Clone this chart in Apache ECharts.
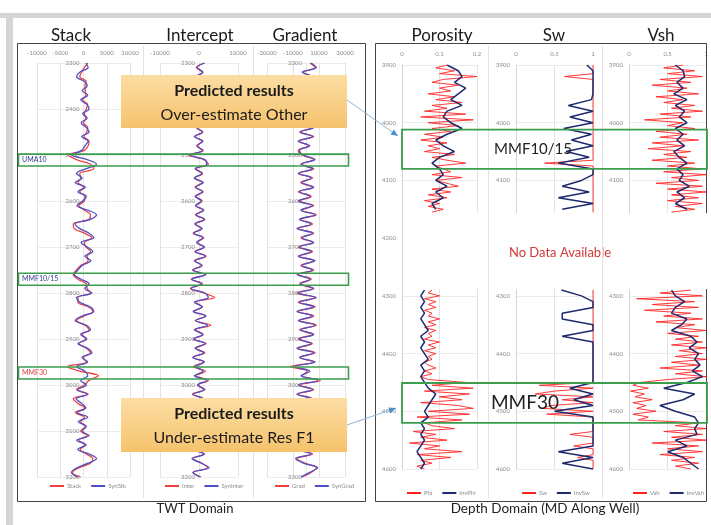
<!DOCTYPE html>
<html><head><meta charset="utf-8">
<script src="https://cdn.jsdelivr.net/npm/echarts@6/dist/echarts.min.js"></script>
<style>html,body{margin:0;padding:0;background:#fff}#c{width:711px;height:525px}</style>
</head><body><div id="c"></div>
<script>
// ---------- TWT domain (ms), samples every 10 ms from 2300 ----------
const twtStart = 2300, twtStep = 10;
const stackRed = [900,200,-400,-800,600,300,400,500,-200,900,
600,200,500,0,900,700,100,1200,1000,200,
-3200,-1500,1500,2200,-800,-600,-1200,0,-800,300,
200,-1000,200,1500,1200,-2200,-2000,200,1800,200,
500,1500,800,1000,-600,-1500,-2200,-1200,600,800,
1500,-1200,-1200,1000,2000,200,-1500,300,1200,-300,
500,-1000,600,1500,0,600,-3500,-800,3200,1200,
200,-1500,1000,-2200,-1200,300,-1800,200,-600,400,
-600,800,-1000,300,-700,600,2000,1500,-1000,-2400,-600];
const stackSyn = [500,1000,-800,-1500,200,800,-300,900,-600,700,
1200,-200,800,-500,600,1200,-400,1000,300,-400,
-2500,800,2800,500,-1500,-300,-1800,400,-1200,600,
-200,-1400,900,2800,1500,-1800,-800,1200,2200,-500,
800,2000,300,1600,-300,-1200,-2000,-500,1200,300,
1800,-1500,-800,1400,2200,-300,-1800,600,1500,-600,
700,-1200,900,1800,-300,900,-1500,300,900,-600,
600,-1300,800,-1600,-400,500,-1400,900,-1100,600,
-300,1200,-1500,600,-1200,1200,2800,1000,-1400,-2600,-1200];
const interRed = [1200,-700,900,-600,1000,-800,900,-800,700,1000,
-500,1100,-700,900,-700,1000,-1000,800,-600,1100,
-2600,1200,2400,-800,900,-1000,900,-1000,1100,-800,
800,-700,1000,-900,1500,-900,600,-1500,1200,-400,
1200,-1100,1800,-1000,600,-1700,1600,-2000,900,-2200,
1200,4000,-800,700,-1200,1600,-1000,3000,-900,1100,
-1200,1800,-800,1500,-1400,1200,-1400,1600,-900,2400,
-200,1300,-1700,1200,-700,900,-900,1000,-800,700,
-800,1200,-800,900,-1000,1200,-1600,800,2200,-1400,500];
const interSyn = [1500,-500,1000,-800,1200,-600,800,-1000,500,1200,
-700,900,-900,1100,-500,800,-1200,1000,-400,900,
-2200,1500,2000,-1000,700,-1200,1100,-800,900,-1000,
600,-900,1200,-700,1300,-1100,800,-1300,1000,-600,
1400,-900,1600,-1200,800,-1500,1800,-1800,600,-2000,
1500,2400,-1200,900,-1500,1800,-800,2200,-1200,900,
-1400,1600,-1000,1200,-1600,1400,-800,1000,-1200,2000,
-400,1500,-1500,1000,-900,1100,-700,800,-1000,900,
-600,1000,-1000,700,-1200,1400,-1800,600,2600,-1600,300];
const gradRed = [3000,7000,-2000,4000,-5000,5000,-2000,-3000,6000,-3000,
4000,-4000,5000,-4000,5000,-5000,6000,-5000,2000,-6000,
-3000,6000,-3000,6000,-5000,5000,-4000,5000,-6000,4000,
-5000,6000,-3000,8000,-4000,5000,-6000,6000,-4000,5000,
-6000,5000,-5000,6000,-4000,6000,-6000,4000,-5000,5000,
-7000,7000,-6000,7000,-6000,6000,-5000,8000,-5000,5000,
-6000,5000,-6000,7000,-4000,6000,-12000,1000,-3000,11000,
-5000,6000,-6000,5000,-4000,5000,-6000,5000,-3000,4000,
-4000,5000,-4000,5000,-7000,5000,-7000,-1000,8000,4000,-3000];
const gradSyn = [4000,8000,-3000,5000,-4000,6000,-3000,-2000,5000,-4000,
3000,-5000,4000,-3000,6000,-4000,5000,-6000,3000,-5000,
-2000,7000,-4000,5000,-6000,4000,-3000,6000,-5000,3000,
-6000,5000,-4000,7000,-5000,4000,-7000,5000,-3000,6000,
-5000,4000,-6000,7000,-3000,5000,-7000,3000,-4000,6000,
-6000,8000,-5000,6000,-7000,5000,-6000,7000,-4000,6000,
-5000,4000,-7000,6000,-5000,7000,-9000,3000,-4000,9000,
-6000,5000,-7000,4000,-3000,6000,-5000,4000,-4000,5000,
-3000,4000,-5000,6000,-6000,4000,-8000,-2000,9000,3000,-4000];

// ---------- Depth domain (m MD) ----------
const topStart = 3900, botStart = 4290, logStep = 5, invStep = 10;
const phiTop = [0.12,0.09,0.14,0.10,0.20,0.11,0.08,0.15,0.10,0.13,
0.07,0.14,0.09,0.16,0.08,0.12,0.06,0.17,0.05,0.19,
0.07,0.15,0.08,0.13,0.06,0.11,0.05,0.12,0.07,0.10,
0.06,0.14,0.08,0.12,0.17,0.09,0.11,0.13,0.08,0.16,
0.09,0.12,0.15,0.08,0.13,0.07,0.12,0.06,0.10,0.07,0.11,0.08];
const phiBot = [0.08,0.07,0.10,0.06,0.09,0.07,0.09,0.06,0.08,0.07,
0.10,0.07,0.09,0.06,0.09,0.07,0.08,0.06,0.10,0.07,
0.09,0.06,0.09,0.07,0.08,0.06,0.07,0.09,0.06,0.08,
0.05,0.07,0.17,0.08,0.19,0.06,0.18,0.10,0.16,0.05,
0.15,0.19,0.07,0.18,0.04,0.16,0.06,0.08,0.14,0.03,
0.09,0.05,0.12,0.02,0.10,0.06,0.16,0.04,0.13,0.05,0.08,0.04,0.06];
const invPhiTop = [0.12,0.15,0.16,0.14,0.17,0.15,0.13,0.16,0.12,0.11,
0.13,0.16,0.12,0.09,0.11,0.14,0.10,0.08,0.10,0.11,
0.09,0.12,0.09,0.11,0.08,0.09];
const invPhiBot = [0.06,0.05,0.06,0.05,0.06,0.05,0.06,0.07,0.05,0.06,
0.05,0.06,0.07,0.05,0.06,0.05,0.06,0.07,0.09,0.08,
0.07,0.06,0.07,0.05,0.06,0.05,0.06,0.05,0.04,0.05,0.06,0.05];
const swTop = [1,1,1,1,0.63,1,1,1,1,1, 1,1,1,1,1,1,1,1,1,1,
1,1,1,1,1,1,1,1,1,1, 1,1,1,1,0.37,1,1,1,1,1,
1,1,1,1,1,1,1,1,1,1, 1,1];
const swBot = [1,1,1,1,1,1,1,1,1,1, 1,1,1,1,1,1,1,1,1,1,
1,1,1,1,1,1,1,1,1,1, 1,1,1,0.3,1,0.5,0.25,1,0.6,1,
0.45,0.35,1,0.4,1,1,1,1,1,1, 0.7,1,1,1,0.75,1,1,1,0.8,1, 1,1,1];
const invSwTop = [0.92,1,1,1,1,1,0.98,0.68,1,0.7,
1,0.62,0.98,0.72,1,0.65,0.95,0.55,1,1,
0.85,0.6,0.95,0.55,1,0.6];
const invSwBot = [0.59,0.85,1,1,0.6,0.6,1,1,0.6,1,
1,1,1,1,1,1,1,0.7,1,0.75,
1,0.5,1,1,1,1,1,1,0.55,1,0.6,1];
const vshTop = [0.7,0.45,0.85,0.5,0.95,0.4,0.8,0.3,0.75,0.5,
0.9,0.35,0.7,0.45,0.85,0.55,0.95,0.4,0.8,0.2,
0.7,0.5,0.85,0.35,0.75,0.4,0.9,0.3,0.7,0.25,
0.8,0.45,0.75,0.3,0.85,0.5,0.95,0.45,1.0,0.55,
0.9,0.35,0.95,0.5,1.0,0.55,0.9,0.5,0.95,0.6,0.85,0.55];
const vshBot = [0.8,0.4,0.95,0.1,0.85,0.3,0.9,0.2,0.8,0.45,
0.95,0.35,0.85,0.6,1.0,0.5,0.9,0.6,0.95,0.55,
1.0,0.65,0.95,0.6,1.0,0.55,0.9,0.4,0.95,0.6,
1.0,0.5,0.15,0.05,0.25,0.02,0.2,0.08,0.3,0.05,
0.22,0.1,0.35,0.05,0.25,0.12,0.9,0.6,1.0,0.45,
0.95,0.55,1.0,0.3,0.9,0.5,0.95,0.4,0.85,0.55,0.9,0.6,0.8];
const invVshTop = [0.6,0.7,0.72,0.62,0.7,0.58,0.75,0.6,0.72,0.65,
0.75,0.6,0.7,0.62,0.72,0.58,0.65,0.75,0.62,0.7,
0.65,0.78,0.62,0.72,0.6,0.75];
const invVshBot = [0.55,0.6,0.72,0.6,0.55,0.75,0.68,0.55,0.8,0.88,
0.78,0.9,0.85,0.92,0.82,0.95,0.75,0.45,0.85,0.7,
0.4,0.6,0.85,0.9,0.85,0.88,0.6,0.75,0.5,0.7,0.8,0.9];

// zones
const leftZones = [
  {name:'UMA10', top:2498, bottom:2524, color:'#2e3a8c'},
  {name:'MMF10/15', top:2757, bottom:2783, color:'#2e3a8c'},
  {name:'MMF30', top:2961, bottom:2987, color:'#e03a3a'}
];
const rightZones = [
  {name:'MMF10/15', top:4012, bottom:4080, size:15, cx:533},
  {name:'MMF30', top:4451, bottom:4520, size:19, cx:525}
];
const noDataTop = 4157, noDataBottom = 4288;

function pairs(vals, start, step){ return vals.map((v,i)=>[v, start + i*step]); }

const chart = echarts.init(document.getElementById('c'), null, {renderer:'canvas'});
const F = 'Lato, "Open Sans", sans-serif';
const fmt = v => String(v);
const tick = {fontSize:6, color:'#8c8c8c', fontFamily:F, formatter:fmt};
const LRED = '#f04040', LBLUE = '#4d4fc6', RRED = '#ff2424', RBLUE = '#1e2a6e';

const grids = [
  {left:37, top:63, width:93, height:414},
  {left:160, top:63, width:78, height:414},
  {left:267, top:63, width:78, height:414},
  {left:402, top:65, width:75, height:404},
  {left:516, top:65, width:77, height:404},
  {left:629, top:65, width:78, height:404}
];
const xDefs = [
  {min:-10000, max:10000, interval:5000},
  {min:-10000, max:10000, interval:10000},
  {min:-30000, max:30000, interval:20000},
  {min:0, max:0.2, interval:0.1},
  {min:0, max:1, interval:0.5},
  {min:0, max:1, interval:0.5}
];
const xAxis = xDefs.map((d,i)=>({
  type:'value', gridIndex:i, position:'top', min:d.min, max:d.max, interval:d.interval,
  axisLine:{show:false, onZero:false}, axisTick:{show:false},
  axisLabel:Object.assign({margin: i<3 ? 7 : 8}, tick),
  splitLine:{show:true, lineStyle:{color:'#e3e3e3', width:1}}
}));
const yAxis = grids.map((g,i)=>({
  type:'value', gridIndex:i, inverse:true, position:'left', offset:0,
  min: i<3 ? 2300 : 3900, max: i<3 ? 3200 : 4600, interval:100,
  axisLine:{show:true, onZero:false, lineStyle:{color: i<3 ? '#e6e6e6' : '#d4d4d4'}},
  axisTick:{show:false},
  axisLabel:Object.assign({margin: i<3 ? 4 : 6}, tick),
  splitLine:{show:true, lineStyle:{color:'#ececec'}}
}));

function ser(name, data, gi, color, w, opts){
  return Object.assign({type:'line', name, data, xAxisIndex:gi, yAxisIndex:gi, showSymbol:false, symbol:'none',
    lineStyle:{color, width:w}, itemStyle:{color}, z:3, silent:true}, opts || {});
}
const SM = {smooth:0.35};
const series = [
  ser('Stack', pairs(stackRed, twtStart, twtStep), 0, LRED, 1.3, SM),
  ser('SynStk', pairs(stackSyn, twtStart, twtStep), 0, LBLUE, 1.3, SM),
  ser('Inter', pairs(interRed, twtStart, twtStep), 1, LRED, 1.3, SM),
  ser('SynInter', pairs(interSyn, twtStart, twtStep), 1, LBLUE, 1.3, SM),
  ser('Grad', pairs(gradRed, twtStart, twtStep), 2, LRED, 1.3, SM),
  ser('SynGrad', pairs(gradSyn, twtStart, twtStep), 2, LBLUE, 1.3, SM),
  ser('Phi', pairs(phiTop, topStart, logStep), 3, RRED, 0.9),
  ser('Phi', pairs(phiBot, botStart, logStep), 3, RRED, 0.9),
  ser('InvPhi', pairs(invPhiTop, topStart, invStep), 3, RBLUE, 1.5),
  ser('InvPhi', pairs(invPhiBot, botStart, invStep), 3, RBLUE, 1.5),
  ser('Sw', pairs(swTop, topStart, logStep), 4, RRED, 0.9),
  ser('Sw', pairs(swBot, botStart, logStep), 4, RRED, 0.9),
  ser('InvSw', pairs(invSwTop, topStart, invStep), 4, RBLUE, 1.5),
  ser('InvSw', pairs(invSwBot, botStart, invStep), 4, RBLUE, 1.5),
  ser('Vsh', pairs(vshTop, topStart, logStep), 5, RRED, 0.9),
  ser('Vsh', pairs(vshBot, botStart, logStep), 5, RRED, 0.9),
  ser('InvVsh', pairs(invVshTop, topStart, invStep), 5, RBLUE, 1.5),
  ser('InvVsh', pairs(invVshBot, botStart, invStep), 5, RBLUE, 1.5)
];

const legendDefs = [
  {data:['Stack','SynStk'], left:45, top:478},
  {data:['Inter','SynInter'], left:160, top:478},
  {data:['Grad','SynGrad'], left:270, top:478},
  {data:['Phi','InvPhi'], left:402, top:485},
  {data:['Sw','InvSw'], left:517, top:485},
  {data:['Vsh','InvVsh'], left:628, top:485}
];
const legend = legendDefs.map(d=>Object.assign({
  icon:'rect', itemWidth:14, itemHeight:2, itemGap:10, orient:'horizontal',
  textStyle:{fontSize:6, color:'#8c8c8c', fontFamily:F, padding:[0,0,0,-2]}, selectedMode:false
}, d));

chart.setOption({
  animation:false, backgroundColor:'#ffffff',
  grid: grids, xAxis, yAxis, series, legend
});

// depth axes of the TWT tracks sit on the zero of their amplitude axis
const yOffsets = [0,1,2].map(i => ({offset: -(chart.convertToPixel({xAxisIndex:i}, 0) - grids[i].left)}));
chart.setOption({yAxis: yOffsets});

// --------- annotations (positions from the chart's own scales) ----------
const yL = d => chart.convertToPixel({gridIndex:0}, [0, d])[1];
const yR = d => chart.convertToPixel({gridIndex:3}, [0, d])[1];
const G = [];
const C = {textAlign:'center', textVerticalAlign:'middle', align:'center', verticalAlign:'middle'};
// gray frame
G.push({type:'rect', shape:{x:0,y:13,width:711,height:5}, style:{fill:'#d5d5d5'}, z:1});
G.push({type:'rect', shape:{x:6,y:13,width:7,height:512}, style:{fill:'#d5d5d5'}, z:1});
// panel boxes
G.push({type:'rect', shape:{x:17.5,y:43.5,width:348,height:458}, style:{fill:null, stroke:'#444', lineWidth:1}, z:1});
G.push({type:'rect', shape:{x:375.5,y:43.5,width:331,height:458}, style:{fill:null, stroke:'#444', lineWidth:1}, z:1});
// track separators
[143,253].forEach(x=>G.push({type:'line', shape:{x1:x+0.5,y1:46,x2:x+0.5,y2:498}, style:{stroke:'#e2e2e2', lineWidth:1}, z:1}));
// no data cover
const nd0 = yR(noDataTop), nd1 = yR(noDataBottom);
G.push({type:'rect', shape:{x:403,y:nd0,width:305,height:nd1-nd0}, style:{fill:'#ffffff'}, z:50});
G.push({type:'text', x:560, y:(nd0+nd1)/2+2, style:Object.assign({text:'No Data Available', font:'13px '+F, fill:'#d03a3a'}, C), z:51});
[488,602].forEach(x=>G.push({type:'line', shape:{x1:x+0.5,y1:46,x2:x+0.5,y2:498}, style:{stroke:'#e2e2e2', lineWidth:1}, z:52}));
// titles
[['Stack',71],['Intercept',200],['Gradient',305],['Porosity',442],['Sw',554],['Vsh',661]].forEach(t=>{
  G.push({type:'text', x:t[1], y:36, style:Object.assign({text:t[0], font:'17px '+F, fill:'#1a1a1a'}, C), z:60});
});
G.push({type:'text', x:195, y:509, style:Object.assign({text:'TWT Domain', font:'13px '+F, fill:'#222'}, C), z:60});
G.push({type:'text', x:545, y:509, style:Object.assign({text:'Depth Domain (MD Along Well)', font:'13.5px '+F, fill:'#222'}, C), z:60});
// zones
leftZones.forEach(z=>{
  const a = yL(z.top), b = yL(z.bottom);
  G.push({type:'rect', shape:{x:18.5,y:a,width:330,height:b-a}, style:{fill:null, stroke:'#3a9e4c', lineWidth:1.6}, z:70});
  G.push({type:'text', x:22, y:(a+b)/2, style:{text:z.name, font:'7px '+F, fill:z.color, textAlign:'left', textVerticalAlign:'middle', align:'left', verticalAlign:'middle'}, z:71});
});
rightZones.forEach(z=>{
  const a = yR(z.top), b = yR(z.bottom);
  G.push({type:'rect', shape:{x:402,y:a,width:305,height:b-a}, style:{fill:null, stroke:'#3a9e4c', lineWidth:1.8}, z:70});
  G.push({type:'text', x:z.cx, y:(a+b)/2, style:Object.assign({text:z.name, font:z.size+'px '+F, fill:'#222'}, C), z:71});
});
// callouts
function callout(y, h, l1, l2){
  G.push({type:'rect', shape:{x:121,y:y,width:226,height:h},
    style:{fill:new echarts.graphic.LinearGradient(0,0,0,1,[{offset:0,color:'#fcdda3'},{offset:1,color:'#f6c36d'}])}, z:80});
  G.push({type:'text', x:234, y:y+16, style:Object.assign({text:l1, font:'bold 16px '+F, fill:'#1a1a1a'}, C), z:81});
  G.push({type:'text', x:234, y:y+40, style:Object.assign({text:l2, font:'16px '+F, fill:'#1a1a1a'}, C), z:81});
}
callout(75, 53, 'Predicted results', 'Over-estimate Other');
callout(398, 54, 'Predicted results', 'Under-estimate Res F1');
function arrow(x1,y1,x2,y2){
  G.push({type:'line', shape:{x1,y1,x2,y2}, style:{stroke:'#8db6da', lineWidth:1}, z:82});
  const ang = Math.atan2(y2-y1, x2-x1), L = 7, W = 3;
  const bx = x2 - L*Math.cos(ang), by = y2 - L*Math.sin(ang);
  G.push({type:'polygon', shape:{points:[[x2,y2],[bx - W*Math.sin(ang), by + W*Math.cos(ang)],[bx + W*Math.sin(ang), by - W*Math.cos(ang)]]}, style:{fill:'#4a90d0'}, z:82});
}
arrow(347,100,398,136);
arrow(347,425,396,408);
chart.setOption({graphic:{elements:G}});
</script>
</body></html>
